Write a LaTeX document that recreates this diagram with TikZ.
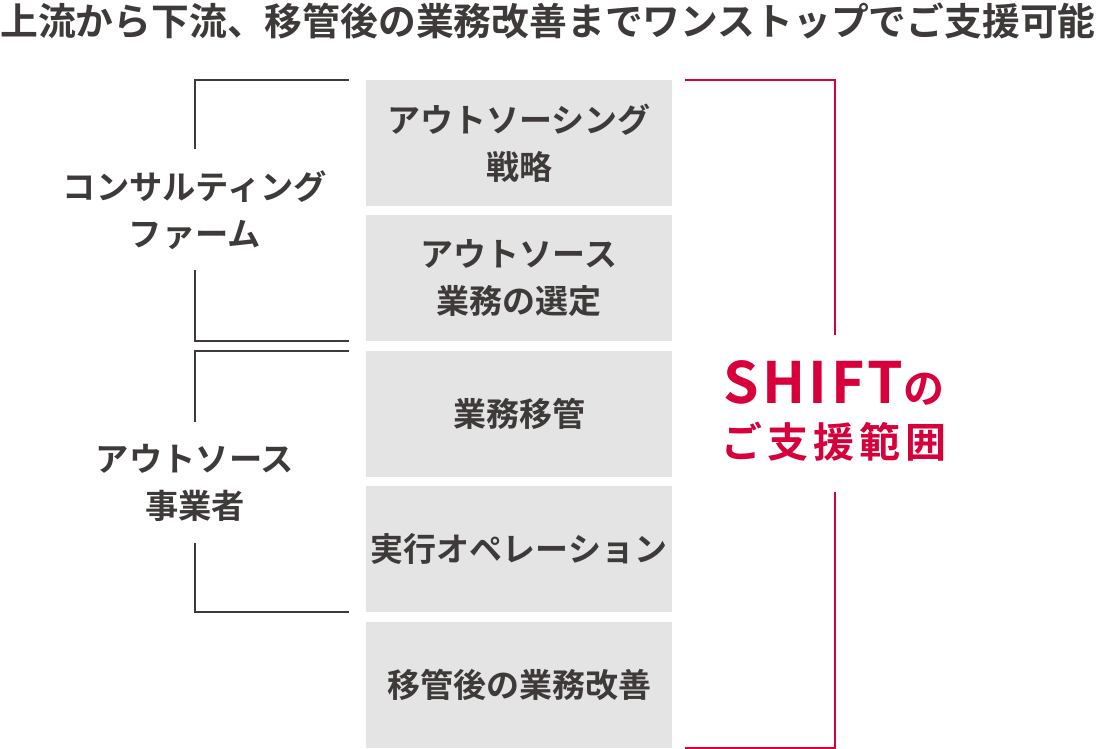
\documentclass[tikz,border=0pt]{standalone}
\usepackage{fontspec}
\setmainfont{Noto Sans CJK JP Bold}
\newfontfamily\redfont{Noto Sans CJK JP Bold}[LetterSpace=12]
\newfontfamily\shiftfont{Noto Sans CJK JP Bold}[LetterSpace=6]
\usetikzlibrary{positioning}
\definecolor{inkgray}{HTML}{3E3A39}
\definecolor{boxgray}{HTML}{E4E4E4}
\definecolor{shiftred}{HTML}{D7003A}
\tikzset{
  phase/.style={fill=boxgray, minimum width=306pt, minimum height=126pt,
    inner sep=0pt, align=center, text=inkgray, font=\fontsize{33}{47}\selectfont},
  side/.style={align=center, text=inkgray, font=\fontsize{33.3}{47}\selectfont},
  bracket/.style={draw=inkgray, line width=2pt},
  redbracket/.style={draw=shiftred, line width=2.5pt}
}
\begin{document}
\begin{tikzpicture}[x=1pt, y=-1pt]
    \useasboundingbox (0, 0) rectangle (1096, 749);
    \node[text=inkgray, font=\fontsize{37.8}{40}\selectfont] (title) at (548, 21)
        {上流から下流、移管後の業務改善までワンストップでご支援可能};

    % service phases
    \foreach \name/\y/\txt in {strat/143/{アウトソーシング\\戦略},
                               select/278/{アウトソース\\業務の選定},
                               transfer/414/{業務移管},
                               oper/549/{実行オペレーション},
                               improve/685/{移管後の業務改善}} {
            \node[phase] (\name) at (519, \y) {\txt};
        }

    % who covers what
    \node[side] (consult) at (195, 210) {コンサルティング\\ファーム};
    \node[side] (vendor) at (195, 483) {アウトソース\\事業者};
    \draw[bracket] ([xshift=-17pt]strat.north west) -| (195, 149);
    \draw[bracket] (195, 270) |- ([xshift=-17pt]select.south west);
    \draw[bracket] ([xshift=-17pt]transfer.north west) -| (195, 422);
    \draw[bracket] (195, 543) |- ([xshift=-17pt]oper.south west);

    % SHIFT range
    \node[text=shiftred, align=center, font=\fontsize{41}{54}\redfont] (scope) at (834, 411)
        {{\fontsize{57}{54}\shiftfont SHIFT}の\\ご支援範囲};
    \draw[redbracket] ([xshift=13pt]strat.north east) -| (835, 335);
    \draw[redbracket] (835, 492) |- ([xshift=13pt]improve.south east);
\end{tikzpicture}
\end{document}
